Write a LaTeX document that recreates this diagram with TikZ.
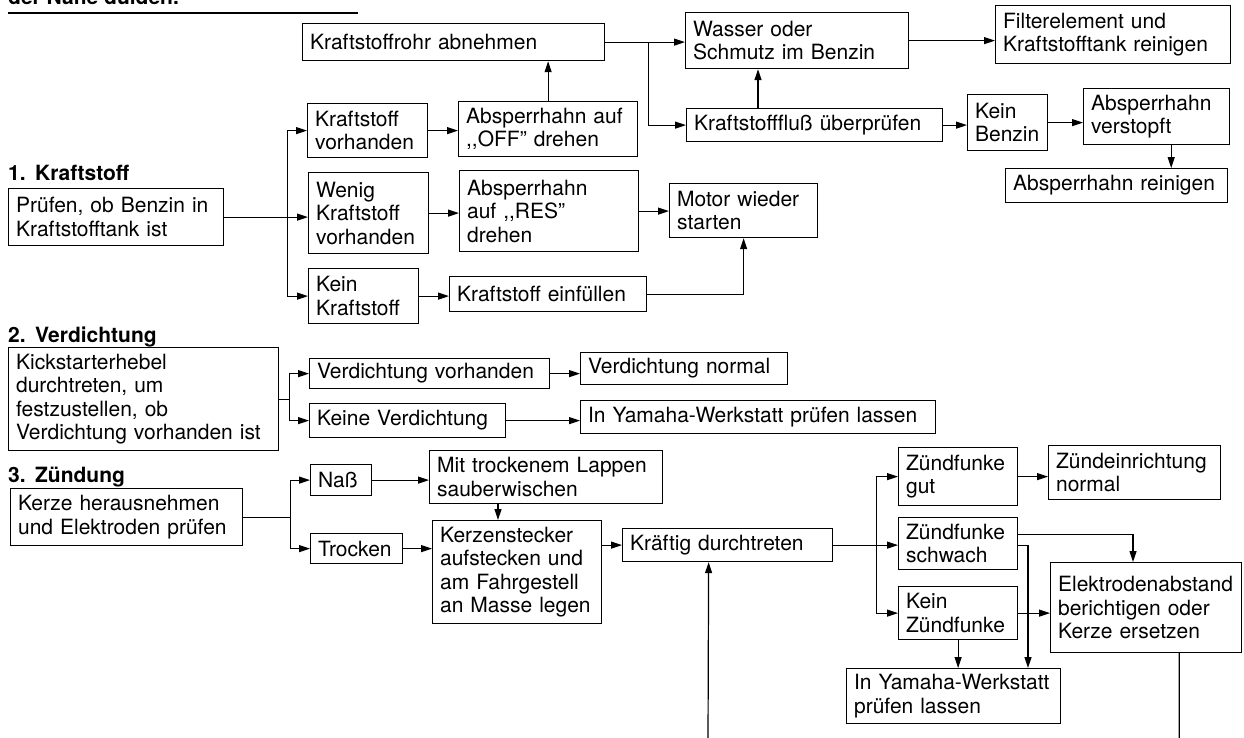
\documentclass[tikz,border=0pt]{standalone}
\usepackage{fontspec}
\setmainfont{TeX Gyre Heros}
\usetikzlibrary{arrows.meta,calc}
\tikzset{
  bx/.style={draw, line width=1.2pt, inner xsep=7.5pt, inner ysep=0pt, align=left,
    anchor=north west, font=\fontsize{21}{23.5}\selectfont},
  arr/.style={line width=1.2pt, -{Triangle[length=11pt,width=7pt]}},
  ln/.style={line width=1.2pt},
  hd/.style={font=\bfseries\fontsize{21}{24}\selectfont, anchor=base west, inner sep=0pt},
}
\begin{document}
\begin{tikzpicture}[x=1pt,y=-1pt]
\useasboundingbox (0,0) rectangle (1244,737);
% header (cut off at the top edge, as in the reference)
\node[hd] (top) at (8,4.5) {der Nähe dulden.};
\draw[line width=2pt] (8,13) -- (358,13);
% ---------- 1. Kraftstoff
\node[hd] (h1) at (8,180) {1.\hspace{0.45em}Kraftstoff};
\node[bx, text width=200pt, minimum height=57pt] (pruef) at (8,188) {Prüfen, ob Benzin in\\Kraftstofftank ist};
\node[bx, text width=287pt, minimum height=37pt] (rohr) at (302,23) {Kraftstoffrohr abnehmen};
\node[bx, text width=208pt, minimum height=56pt] (wasser) at (685,12) {Wasser oder\\Schmutz im Benzin};
\node[bx, text width=220pt, minimum height=58pt] (filter) at (995,5) {Filterelement und\\Kraftstofftank reinigen};
\node[bx, text width=105pt, minimum height=54pt] (kv) at (307,103) {Kraftstoff\\vorhanden};
\node[bx, text width=164pt, minimum height=55pt] (off) at (458,101) {Absperrhahn auf\\{,}{,}OFF'' drehen};
\node[bx, text width=241pt, minimum height=33pt] (fluss) at (686,108) {Kraftstofffluß überprüfen};
\node[bx, text width=64.5pt, minimum height=56pt] (keinb) at (967,94) {Kein\\Benzin};
\node[bx, text width=131pt, minimum height=56pt] (verst) at (1083,88) {Absperrhahn\\verstopft};
\node[bx, text width=207pt, minimum height=34pt] (reinig) at (1005,168) {Absperrhahn reinigen};
\node[bx, text width=105pt, minimum height=81pt] (wenig) at (308,172) {Wenig\\Kraftstoff\\vorhanden};
\node[bx, text width=164pt, minimum height=81pt] (res) at (459,170) {Absperrhahn\\auf {,}{,}RES''\\drehen};
\node[bx, text width=133pt, minimum height=54pt] (motor) at (669,183) {Motor wieder\\starten};
\node[bx, text width=95pt, minimum height=55pt] (keink) at (308,268) {Kein\\Kraftstoff};
\node[bx, text width=182pt, minimum height=35pt] (einf) at (449,276) {Kraftstoff einfüllen};
% connectors 1
\coordinate (j1) at ([xshift=63pt]pruef.east);
\draw[ln] (pruef.east) -- (j1);
\draw[arr] (j1) |- (kv.west);
\draw[arr] (j1) |- (keink.west);
\draw[arr] (j1) -- (j1 -| wenig.west);
\draw[arr] (kv.east) -- (kv.east -| off.west);
\draw[arr] (off.north) -- (off.north |- rohr.south);
\draw[arr] (wenig.east) -- (wenig.east -| res.west);
\draw[arr] (res.east) -- (res.east -| motor.west);
\draw[arr] (keink.east) -- (keink.east -| einf.west);
\draw[arr] (einf.east) -| (motor.south);
\coordinate (j2) at ([xshift=43pt]rohr.east);
\draw[arr] (rohr.east) -- (rohr.east -| wasser.west);
\draw[arr] (j2) |- (fluss.west);
\draw[arr] ([xshift=72pt]fluss.north west) -- ([xshift=72pt]fluss.north west |- wasser.south);
\draw[arr] (wasser.east) -- (wasser.east -| filter.west);
\draw[arr] (fluss.east) -- (fluss.east -| keinb.west);
\draw[arr] (keinb.east) -- (keinb.east -| verst.west);
\draw[arr] ([xshift=-59pt]verst.south east) -- ([xshift=-59pt]verst.south east |- reinig.north);
% ---------- 2. Verdichtung
\node[hd] (h2) at (8,342) {2.\hspace{0.45em}Verdichtung};
\node[bx, text width=255pt, minimum height=103pt] (kick) at (8,347) {Kickstarterhebel\\durchtreten, um\\festzustellen, ob\\Verdichtung vorhanden ist};
\node[bx, text width=225pt, minimum height=30pt] (vv) at (309,358) {Verdichtung vorhanden};
\node[bx, text width=181pt, minimum height=34pt] (kv2) at (309,403) {Keine Verdichtung};
\node[bx, text width=192pt, minimum height=32pt] (vn) at (580,352) {Verdichtung normal};
\node[bx, text width=340pt, minimum height=33pt] (y1) at (580,400) {In Yamaha-Werkstatt prüfen lassen};
\coordinate (j3) at ([xshift=10pt]kick.east);
\draw[ln] (kick.east) -- (j3);
\draw[arr] (j3) |- (vv.west);
\draw[arr] (j3) |- (kv2.west);
\draw[arr] (vv.east) -- (vv.east -| vn.west);
\draw[arr] (kv2.east) -- (kv2.east -| y1.west);
% ---------- 3. Zuendung
\node[hd] (h3) at (8,482) {3.\hspace{0.45em}Zündung};
\node[bx, text width=217pt, minimum height=57pt] (kerze) at (10,488) {Kerze herausnehmen\\und Elektroden prüfen};
\node[bx, text width=46pt, minimum height=31pt] (nass) at (310,464) {Naß};
\node[bx, text width=77pt, minimum height=30pt] (trocken) at (310,533) {Trocken};
\node[bx, text width=218pt, minimum height=53pt] (mit) at (429,450) {Mit trockenem Lappen\\sauberwischen};
\node[bx, text width=154pt, minimum height=103pt] (kst) at (432,520) {Kerzenstecker\\aufstecken und\\am Fahrgestell\\an Masse legen};
\node[bx, text width=195pt, minimum height=33pt] (kr) at (622,528) {Kräftig durchtreten};
\node[bx, text width=104pt, minimum height=58pt] (zg) at (898,447) {Zündfunke\\gut};
\node[bx, text width=157pt, minimum height=54pt] (zn) at (1048,445) {Zündeinrichtung\\normal};
\node[bx, text width=104pt, minimum height=52pt] (zs) at (898,517) {Zündfunke\\schwach};
\node[bx, text width=104pt, minimum height=53pt] (kz) at (898,586) {Kein\\Zündfunke};
\node[bx, text width=176pt, minimum height=90pt] (el) at (1050,562) {Elektrodenabstand\\berichtigen oder\\Kerze ersetzen};
\node[bx, text width=199pt, minimum height=55pt] (y2) at (846,668) {In Yamaha-Werkstatt\\prüfen lassen};
\coordinate (j4) at ([xshift=47pt]kerze.east);
\draw[ln] (kerze.east) -- (j4);
\draw[arr] (j4) |- (nass.west);
\draw[arr] (j4) |- (trocken.west);
\draw[arr] (nass.east) -- (nass.east -| mit.west);
\draw[arr] (trocken.east) -- (trocken.east -| kst.west);
\draw[arr] ([xshift=69pt]mit.south west) -- ([xshift=69pt]mit.south west |- kst.north);
\draw[arr] (kst.east |- kr.west) -- (kr.west);
\coordinate (j5) at ([xshift=43pt]kr.east);
\draw[ln] (kr.east) -- (j5);
\draw[arr] (j5) |- (zg.west);
\draw[arr] (j5) |- (kz.west);
\draw[arr] (j5) -- (j5 -| zs.west);
\draw[arr] (zg.east) -- (zg.east -| zn.west);
\draw[arr] ([yshift=9pt]zs.east) -| ([xshift=83pt]el.north west);
\draw[arr] ([yshift=-2pt]zs.east) -| ([xshift=182pt]y2.north west);
\draw[arr] (kz.east) -- (kz.east -| el.west);
\draw[arr] (kz.south) -- (kz.south |- y2.north);
\coordinate (bl) at (708,741);
\draw[arr] ([xshift=-63pt]el.south east) |- (bl) -- ([xshift=-19pt]kr.south);
\end{tikzpicture}
\end{document}
